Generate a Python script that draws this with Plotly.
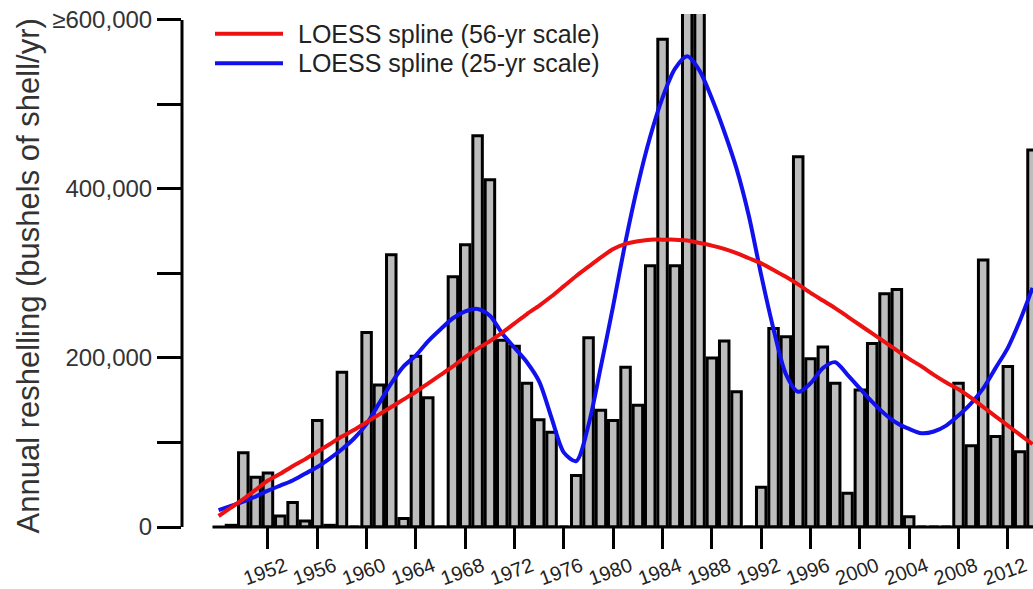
import plotly.graph_objects as go

# Annual oyster-bar reshelling, bushels of shell per year
years = list(range(1949, 2015))
reshelling = [
    2000, 88000, 59000, 64000, 13000, 29000, 7000, 126000, 2000, 183000,    # 1949-1958
    0, 230000, 168000, 322000, 10000, 202000, 153000, 0, 296000, 334000,    # 1959-1968
    463000, 411000, 221000, 214000, 170000, 127000, 112000, 0, 61000, 224000,  # 1969-1978
    138000, 126000, 189000, 144000, 309000, 577000, 309000, 650000, 630000, 200000,  # 1979-1988
    220000, 160000, 0, 47000, 235000, 225000, 438000, 199000, 213000, 170000,  # 1989-1998
    40000, 162000, 217000, 276000, 281000, 12000, 0, 0, 0, 170000,          # 1999-2008
    96000, 316000, 107000, 190000, 89000, 446000,                          # 2009-2014
]

# Smoothed trends evaluated on a yearly grid
curve_years = list(range(1948, 2015))
loess_56 = [
    13000, 23000, 33000, 44000, 55000, 63000, 72000, 80000, 89000, 98000,
    107000, 115000, 124000, 133000, 142000, 151000, 160000, 170000, 180000, 190000,
    201000, 211000, 220000, 230000, 241000, 252000, 262000, 273000, 285000, 297000,
    308000, 319000, 329000, 335000, 338000, 340000, 340000, 340000, 339000, 336000,
    333000, 329000, 324000, 318000, 312000, 304000, 296000, 287000, 277000, 268000,
    259000, 249000, 239000, 229000, 219000, 209000, 199000, 190000, 180000, 171000,
    163000, 153000, 142000, 131000, 120000, 109000, 98000,
]
loess_25 = [
    20000, 25000, 30000, 36000, 43000, 49000, 55000, 63000, 71000, 81000,
    92000, 105000, 122000, 146000, 170000, 190000, 203000, 220000, 234000, 247000,
    255000, 258000, 250000, 229000, 212000, 195000, 172000, 129000, 88000, 78000,
    121000, 190000, 262000, 338000, 405000, 462000, 508000, 542000, 557000, 540000,
    507000, 468000, 424000, 368000, 298000, 234000, 181000, 160000, 170000, 188000,
    195000, 180000, 164000, 148000, 134000, 123000, 116000, 111000, 113000, 120000,
    132000, 146000, 164000, 188000, 212000, 245000, 283000,
]

legend_labels = ["LOESS spline (56-yr scale)", "LOESS spline (25-yr scale)"]
legend_colors = ["#ee1111", "#1111ee"]

x_ticks = list(range(1952, 2013, 4))
y_ticks = list(range(0, 600001, 100000))
y_ticktext = ["0", "", "200,000", "", "400,000", "", "\u2265600,000"]

W, H = 1033, 589
ML, MR, MT, MB = 182, 0, 14, 55
PW, PH = W - ML - MR, H - MT - MB

FONT = "Liberation Sans, Arial, Helvetica, sans-serif"


def px(xp):
    return (xp - ML) / PW


def py(yp):
    return (H - MB - yp) / PH


fig = go.Figure()
fig.add_trace(go.Bar(
    x=years, y=reshelling,
    marker=dict(color="#bdbdbd", line=dict(color="black", width=3)),
    showlegend=False, hoverinfo="x+y",
))
fig.add_trace(go.Scatter(
    x=curve_years, y=loess_25, mode="lines",
    line=dict(color=legend_colors[1], width=4, shape="spline", smoothing=0.8),
    showlegend=False,
))
fig.add_trace(go.Scatter(
    x=curve_years, y=loess_56, mode="lines",
    line=dict(color=legend_colors[0], width=4, shape="spline", smoothing=0.8),
    showlegend=False,
))

shapes = [
    # x axis baseline, starting just left of the first bar
    dict(type="line", xref="x", yref="paper", x0=1947.5, x1=2016, y0=0, y1=0,
         line=dict(color="black", width=3)),
    # y axis spine up to the top tick
    dict(type="line", xref="paper", yref="y", x0=0, x1=0, y0=0, y1=600000,
         line=dict(color="black", width=3)),
]
annotations = []
for i, (lab, col) in enumerate(zip(legend_labels, legend_colors)):
    yl = 34 + 30 * i
    shapes.append(dict(type="line", xref="paper", yref="paper",
                       x0=px(215), x1=px(283), y0=py(yl), y1=py(yl),
                       line=dict(color=col, width=4)))
    annotations.append(dict(xref="paper", yref="paper", x=px(296), y=py(yl),
                            text=lab, showarrow=False, xanchor="left", yanchor="middle",
                            font=dict(family=FONT, size=25, color="#222222")))

annotations.append(dict(xref="paper", yref="paper", x=px(28), y=py(280),
                        text="Annual reshelling (bushels of shell/yr)", textangle=-90,
                        showarrow=False, xanchor="center", yanchor="middle",
                        font=dict(family=FONT, size=31, color="#333333")))

fig.update_layout(
    width=W, height=H,
    margin=dict(l=ML, r=MR, t=MT, b=MB),
    paper_bgcolor="white", plot_bgcolor="white",
    bargap=0.23,
    shapes=shapes, annotations=annotations,
    font=dict(family=FONT, color="#333333"),
    xaxis=dict(
        range=[1945.03, 2014.04], showgrid=False, zeroline=False, showline=False,
        tickmode="array", tickvals=x_ticks, ticktext=[str(v) for v in x_ticks],
        ticks="outside", ticklen=21, tickwidth=3, tickcolor="black",
        tickangle=-20, tickfont=dict(family=FONT, size=20, color="#222222"),
        ticklabelshift=17, ticklabelstandoff=-2,
    ),
    yaxis=dict(
        range=[0, 607000], showgrid=False, zeroline=False, showline=False,
        tickmode="array", tickvals=y_ticks, ticktext=y_ticktext,
        ticks="outside", ticklen=24, tickwidth=2.5, tickcolor="black",
        tickfont=dict(family=FONT, size=24, color="#333333"),
    ),
)

fig.write_html("out.html")
